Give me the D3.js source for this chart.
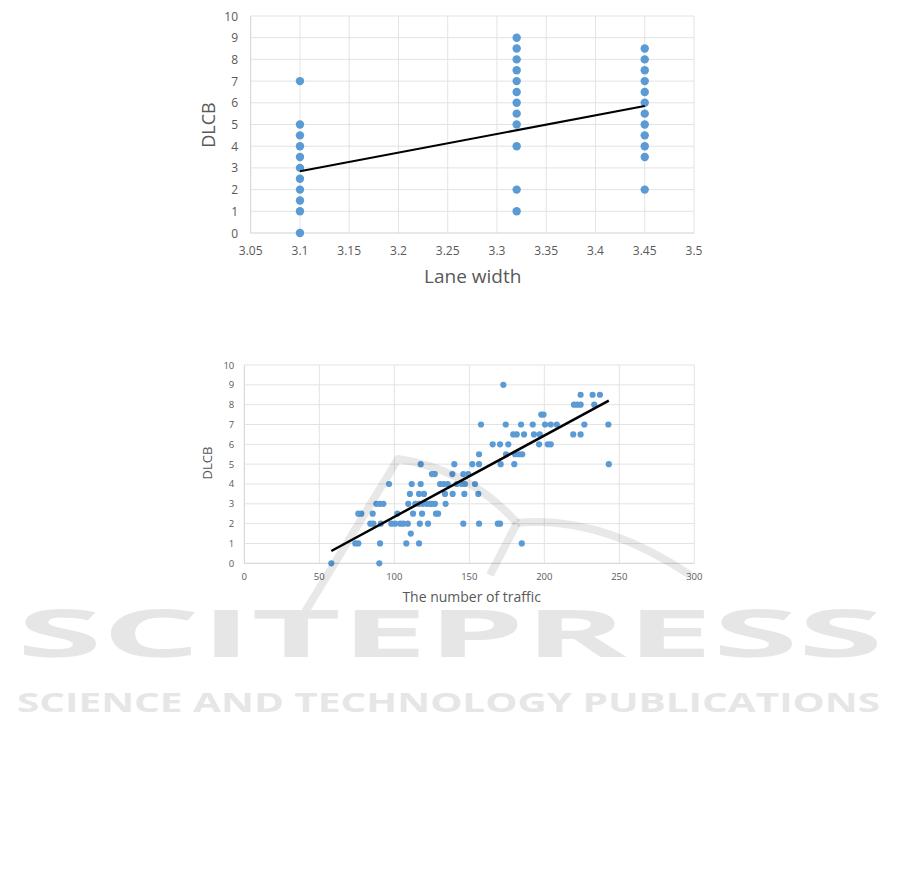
<!DOCTYPE html>
<html>
<head>
<meta charset="utf-8">
<script src="https://cdn.jsdelivr.net/npm/d3@7"></script>
<style>
  html, body { margin: 0; padding: 0; background: #fff; }
  svg { display: block; }
  text { font-family: "Open Sans", "Noto Sans", sans-serif; }
</style>
</head>
<body>
<svg id="chart" width="901" height="887"></svg>
<script>
// ---------- Data: chart 1 (Lane width vs DLCB) ----------
const laneX = [3.1, 3.32, 3.45];
const laneY_310 = [7, 5, 4.5, 4, 3.5, 3, 2.5, 2, 1.5, 1, 0];
const laneY_332 = [9, 8.5, 8, 7.5, 7, 6.5, 6, 5.5, 5, 4, 2, 1];
const laneY_345 = [8.5, 8, 7.5, 7, 6.5, 6, 5.5, 5, 4.5, 4, 3.5, 2];
const laneTrend = [[3.1, 2.85], [3.45, 5.85]];
const laneXTicks = [3.05, 3.1, 3.15, 3.2, 3.25, 3.3, 3.35, 3.4, 3.45, 3.5];
const dlcbTicks = [0, 1, 2, 3, 4, 5, 6, 7, 8, 9, 10];

// ---------- Data: chart 2 (The number of traffic vs DLCB) ----------
const trafficByDLCB = [
  [0,   [58, 90]],
  [1,   [74, 76, 90.5, 108, 116.5, 185]],
  [1.5, [111]],
  [2,   [84, 86, 91, 98, 100.5, 104, 106, 109, 117, 122.5, 146, 156.5, 169, 170.5]],
  [2.5, [76, 78, 85.6, 102, 112.5, 118.5, 127.8, 129.2]],
  [3,   [88, 90.4, 92.7, 109.3, 114, 116.5, 119, 121.6, 123.8, 125, 127.1, 134.2]],
  [3.5, [110.4, 116.5, 119.8, 133.8, 138.9, 146.7, 156]],
  [4,   [96.5, 111.6, 117.6, 130.5, 133, 135.6, 141.6, 145, 147.1, 153.8]],
  [4.5, [125.1, 127, 138.7, 146, 149.3]],
  [5,   [117.6, 140, 152, 156.5, 170.9, 180, 243]],
  [5.5, [156.5, 174.5, 180.5, 183.1, 185.3]],
  [6,   [165.6, 170.5, 176, 196.5, 202.3, 204.3]],
  [6.5, [179.3, 181.6, 186.5, 193.1, 197, 219.3, 224.2]],
  [7,   [157.8, 174.3, 184.5, 192.3, 200.5, 204.3, 208.3, 226.7, 242.7]],
  [7.5, [198, 199.5]],
  [8,   [219.8, 222, 224.2, 233.3]],
  [8.5, [224.2, 232.2, 237.1]],
  [9,   [172.7]]
];
const trafficTrend = [[58, 0.62], [243, 8.2]];
const trafficXTicks = [0, 50, 100, 150, 200, 250, 300];

const svg = d3.select("#chart");
const dotColor = "#5b9bd5";
const gridColor = "#e3e3e3";
const axisColor = "#d0d0d0";
const textColor = "#595959";

function drawChart(cfg) {
  const g = svg.append("g");
  const x = d3.scaleLinear().domain(cfg.xDomain).range(cfg.xRange);
  const y = d3.scaleLinear().domain(cfg.yDomain).range(cfg.yRange);

  // gridlines
  g.selectAll(".vg").data(cfg.xTicks).join("line")
    .attr("x1", d => x(d)).attr("x2", d => x(d))
    .attr("y1", cfg.yRange[0]).attr("y2", cfg.yRange[1])
    .attr("stroke", (d, i) => i === 0 ? axisColor : gridColor).attr("stroke-width", 1);
  g.selectAll(".hg").data(cfg.yTicks).join("line")
    .attr("x1", cfg.xRange[0]).attr("x2", cfg.xRange[1])
    .attr("y1", d => y(d)).attr("y2", d => y(d))
    .attr("stroke", (d, i) => i === 0 ? axisColor : gridColor).attr("stroke-width", 1);

  // tick labels
  g.selectAll(".xt").data(cfg.xTicks).join("text")
    .attr("x", d => x(d)).attr("y", cfg.xTickY)
    .attr("text-anchor", "middle").attr("dominant-baseline", "central")
    .attr("font-size", cfg.tickSize).attr("fill", textColor)
    .text(d => d);
  g.selectAll(".yt").data(cfg.yTicks).join("text")
    .attr("x", cfg.yTickX).attr("y", d => y(d))
    .attr("text-anchor", "end").attr("dominant-baseline", "central")
    .attr("font-size", cfg.tickSize).attr("fill", textColor)
    .text(d => d);

  // axis titles
  g.append("text").attr("x", cfg.xTitlePos[0]).attr("y", cfg.xTitlePos[1])
    .attr("text-anchor", "middle").attr("dominant-baseline", "central")
    .attr("font-size", cfg.xTitleSize).attr("fill", textColor).text(cfg.xTitle);
  g.append("text")
    .attr("transform", `translate(${cfg.yTitlePos[0]},${cfg.yTitlePos[1]}) rotate(-90)`)
    .attr("text-anchor", "middle").attr("dominant-baseline", "central")
    .attr("font-size", cfg.yTitleSize).attr("fill", textColor).text(cfg.yTitle);

  // points
  g.selectAll(".pt").data(cfg.points).join("circle")
    .attr("cx", d => x(d[0])).attr("cy", d => y(d[1]))
    .attr("r", cfg.r).attr("fill", dotColor);

  // trendline
  g.append("path").datum(cfg.trend)
    .attr("d", d3.line().x(d => x(d[0])).y(d => y(d[1])))
    .attr("fill", "none").attr("stroke", "#000").attr("stroke-width", cfg.trendW);
  return g;
}

// ---- Chart 1 ----
const lanePoints = [
  ...laneY_310.map(v => [laneX[0], v]),
  ...laneY_332.map(v => [laneX[1], v]),
  ...laneY_345.map(v => [laneX[2], v])
];
drawChart({
  xDomain: [3.05, 3.5], xRange: [250.7, 694],
  yDomain: [0, 10], yRange: [233, 16],
  xTicks: laneXTicks, yTicks: dlcbTicks,
  xTickY: 250, yTickX: 238, tickSize: 12,
  xTitle: "Lane width", xTitlePos: [472.7, 276], xTitleSize: 19,
  yTitle: "DLCB", yTitlePos: [208, 125], yTitleSize: 18,
  points: lanePoints, r: 4.2, trend: laneTrend, trendW: 2
});

// ---- Chart 2 ----
const trafficPoints = [];
trafficByDLCB.forEach(([yv, xs]) => xs.forEach(xv => trafficPoints.push([xv, yv])));
drawChart({
  xDomain: [0, 300], xRange: [244.3, 694.3],
  yDomain: [0, 10], yRange: [563.3, 365],
  xTicks: trafficXTicks, yTicks: dlcbTicks,
  xTickY: 576.7, yTickX: 234.3, tickSize: 9.5,
  xTitle: "The number of traffic", xTitlePos: [471.7, 596.5], xTitleSize: 14,
  yTitle: "DLCB", yTitlePos: [206.5, 463], yTitleSize: 13,
  points: trafficPoints, r: 3.1, trend: trafficTrend, trendW: 2.5
});

// ---- Watermark (decorative) ----
const wm = svg.append("g").attr("pointer-events", "none");
const swoosh = [
  "M 305 612 L 398 459 Q 470 470 517 523",
  "M 517 523 Q 600 515 690 575",
  "M 517 523 L 490 575"
];
wm.selectAll(".sw").data(swoosh).join("path")
  .attr("d", d => d).attr("fill", "none")
  .attr("stroke", "rgba(0,0,0,0.09)").attr("stroke-width", 8)
  .attr("stroke-linejoin", "round");

wm.append("text").attr("x", 17).attr("y", 657)
  .attr("textLength", 866).attr("lengthAdjust", "spacingAndGlyphs")
  .attr("font-family", "DejaVu Sans").attr("font-weight", "bold")
  .attr("font-size", 67).attr("fill", "#e6e6e6").text("SCITEPRESS");
wm.append("text").attr("x", 17).attr("y", 712)
  .attr("textLength", 863).attr("lengthAdjust", "spacingAndGlyphs")
  .attr("font-family", "DejaVu Sans").attr("font-weight", "bold")
  .attr("font-size", 27).attr("fill", "#e6e6e6").text("SCIENCE AND TECHNOLOGY PUBLICATIONS");
</script>
</body>
</html>
